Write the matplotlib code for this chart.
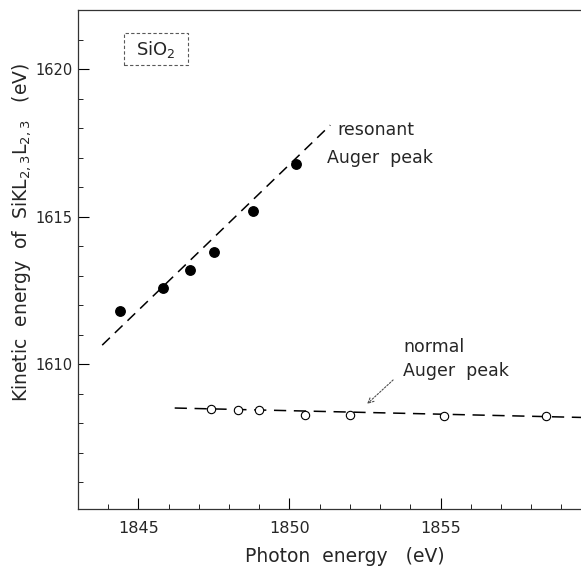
import matplotlib
matplotlib.use('Agg')
import matplotlib.pyplot as plt
from matplotlib.patches import Rectangle
from matplotlib.ticker import MultipleLocator

# Resonant Auger peak (filled circles), photon energy vs kinetic energy (eV)
resonant_photon = [1844.4, 1845.8, 1846.7, 1847.5, 1848.8, 1850.2]
resonant_kinetic = [1611.8, 1612.6, 1613.2, 1613.8, 1615.2, 1616.8]

# Normal Auger peak (open circles)
normal_photon = [1847.4, 1848.3, 1849.0, 1850.5, 1852.0, 1855.1, 1858.5]
normal_kinetic = [1608.5, 1608.45, 1608.45, 1608.3, 1608.3, 1608.25, 1608.25]

# Dashed guide lines drawn through each series (end points)
resonant_fit_photon = [1843.8, 1851.35]
resonant_fit_kinetic = [1610.65, 1618.1]
normal_fit_photon = [1846.2, 1859.7]
normal_fit_kinetic = [1608.52, 1608.2]

x_major_ticks = [1845, 1850, 1855]
y_major_ticks = [1610, 1615, 1620]

FONT = 'DejaVu Sans'
TEXT_COLOR = '0.15'


def make_figure():
    fig = plt.figure(figsize=(5.81, 5.67), dpi=100)
    ax = fig.add_axes([0.1343, 0.1023, 0.8657, 0.880])

    # Data points.
    ax.plot(resonant_photon, resonant_kinetic, 'o', color='black', markersize=6.8)
    ax.plot(normal_photon, normal_kinetic, 'o', markerfacecolor='white',
            markeredgecolor='black', markeredgewidth=0.8, markersize=6.0, zorder=3)

    # Dashed guide lines.
    ax.plot(resonant_fit_photon, resonant_fit_kinetic, color='black', lw=1.1,
            dashes=(7, 4.5), zorder=2)
    ax.plot(normal_fit_photon, normal_fit_kinetic, color='black', lw=1.1,
            dashes=(8, 5), zorder=2)

    ax.set_xlim(1843.0, 1859.65)
    ax.set_ylim(1605.1, 1622.0)

    ax.set_xticks(x_major_ticks)
    ax.set_yticks(y_major_ticks)
    ax.xaxis.set_minor_locator(MultipleLocator(1))
    ax.yaxis.set_minor_locator(MultipleLocator(1))
    ax.tick_params(which='major', direction='in', length=8, width=0.8,
                   labelcolor=TEXT_COLOR, top=False, right=False)
    ax.tick_params(which='minor', direction='in', length=3.5, width=0.6, top=False, right=False)
    ax.tick_params(axis='x', which='major', pad=9, labelsize=11.5)
    ax.tick_params(axis='y', which='major', pad=4, labelsize=10.5)

    ax.spines['right'].set_visible(False)
    for side in ('left', 'bottom', 'top'):
        ax.spines[side].set_linewidth(0.9)
        ax.spines[side].set_color('0.2')

    ax.set_xlabel('Photon  energy   (eV)', fontsize=13.5, color=TEXT_COLOR, family=FONT)
    ax.xaxis.set_label_coords(0.531, -0.076)
    ax.set_ylabel('Kinetic  energy  of  SiKL$_{2,3}$L$_{2,3}$   (eV)', fontsize=13.5,
                  color=TEXT_COLOR, family=FONT)
    ax.yaxis.set_label_coords(-0.09, 0.555)

    # Sample label in dotted box.
    ax.add_patch(Rectangle((0.0915, 0.890), 0.127, 0.064, transform=ax.transAxes,
                           fill=False, edgecolor='0.35', lw=0.8, linestyle=(0, (3, 2))))
    ax.text(0.155, 0.921, 'SiO$_2$', transform=ax.transAxes, fontsize=13,
            ha='center', va='center', color=TEXT_COLOR)

    # Annotations.
    ax.text(1851.6, 1617.92, 'resonant', fontsize=12.5, va='center', color=TEXT_COLOR)
    ax.text(1851.25, 1617.0, 'Auger  peak', fontsize=12.5, va='center', color=TEXT_COLOR)
    ax.text(1853.76, 1610.6, 'normal', fontsize=12.5, va='center', color=TEXT_COLOR)
    ax.text(1853.76, 1609.78, 'Auger  peak', fontsize=12.5, va='center', color=TEXT_COLOR)
    ax.annotate('', xy=(1852.57, 1608.66), xytext=(1853.43, 1609.47),
                arrowprops=dict(arrowstyle='->', color='0.3', lw=0.8, linestyle=(0, (1.5, 1.5)),
                                shrinkA=0, shrinkB=0))

    return fig


if __name__ == '__main__':
    fig = make_figure()
    fig.savefig('out.png', dpi=100)
